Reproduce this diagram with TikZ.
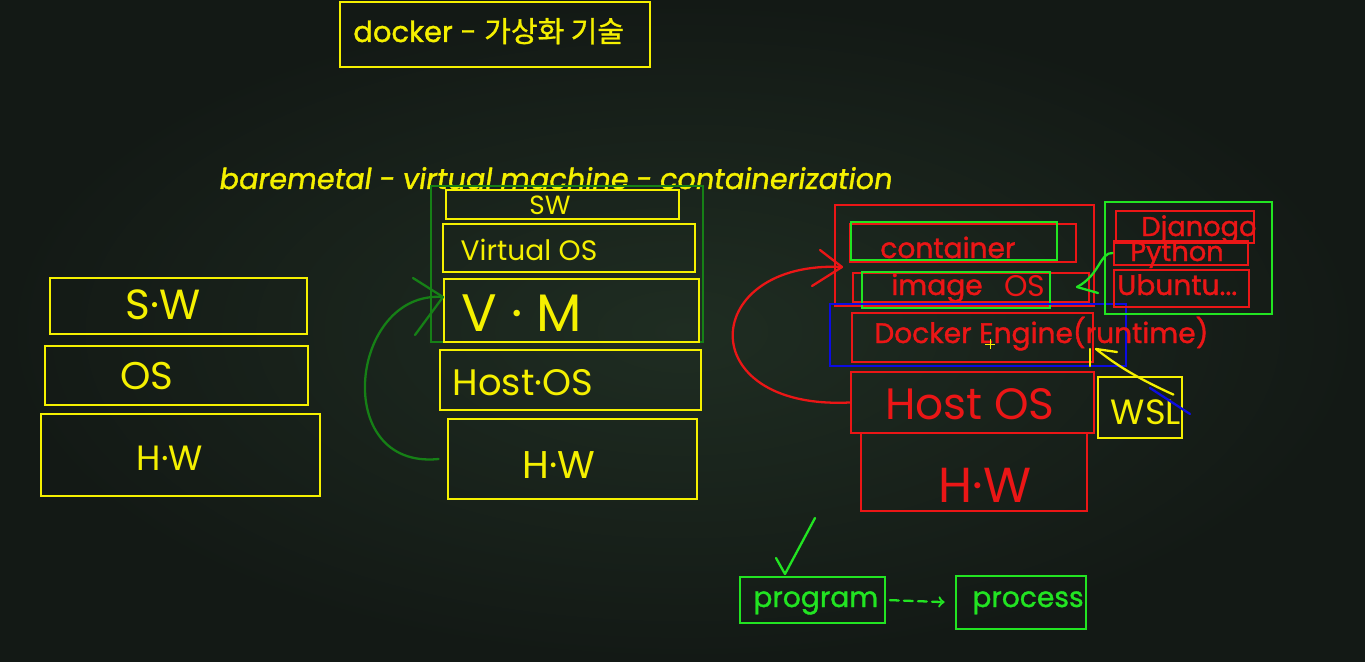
\documentclass[tikz,border=0pt]{standalone}
\usepackage{fontspec}
\setmainfont{Poppins}
\newfontfamily\kr[FakeBold=1]{Noto Sans CJK KR}
\newfontfamily\prt[FakeBold=1.3]{Poppins}
\newfontfamily\obl[FakeSlant=0.15,FakeBold=1.3]{Poppins}
\usetikzlibrary{fit}
\definecolor{ylw}{RGB}{245,240,0}
\definecolor{rd}{RGB}{235,22,22}
\definecolor{grn}{RGB}{34,228,34}
\definecolor{dgrn}{RGB}{22,128,22}
\definecolor{blu}{RGB}{12,12,225}
\definecolor{bgin}{RGB}{31,45,34}
\definecolor{bgout}{RGB}{19,25,21}
\begin{document}
\begin{tikzpicture}[x=0.02cm,y=-0.02cm,
  box/.style={draw,line width=1.6pt,inner sep=0pt},
  yb/.style={box,draw=ylw},rb/.style={box,draw=rd},gb/.style={box,draw=grn},
  pen/.style={line width=1.3pt,line cap=round,line join=round},
  txt/.style={inner sep=0pt,font=\prt\fontsize{16}{16}\selectfont},
  hand/.style={inner sep=0pt,font=\fontsize{#1}{#1}\selectfont}]
\useasboundingbox (0,0) rectangle (1365,662);
\shade[inner color=bgin,outer color=bgout] (0,0) rectangle (1365,662);
\node (ttl) [yb,fit={(340,2) (650,67)}] {};
\node (ttlT) [txt,text=ylw,anchor=base west,font=\prt\fontsize{16.5}{16.5}\selectfont] at (353,42) {docker - {\kr 가상화 기술}};
\node (kind) [txt,text=ylw,anchor=base west,font=\obl\fontsize{16.4}{16.4}\selectfont] at (218,189) {baremetal - virtual machine - containerization};
\node (sw1) [yb,fit={(50,278) (307,334)}] {};
\node (os1) [yb,fit={(45,346) (308,405)}] {};
\node (hw1) [yb,fit={(41,414) (320,496)}] {};
\node (sw1T) [hand=24,text=ylw] at (163,305) {S·W};
\node (os1T) [hand=22,text=ylw] at (147,376) {OS};
\node (hw1T) [hand=20,text=ylw] at (170,458) {H·W};
\node (vmG) [box,draw=dgrn,fit={(431,186) (703,342)}] {};
\node (sw2) [yb,fit={(446,190) (679,219)}] {};
\node (vos) [yb,fit={(443,224) (695,272)}] {};
\node (vm) [yb,fit={(444,279) (699,342)}] {};
\node (host2) [yb,fit={(440,350) (701,410)}] {};
\node (hw2) [yb,fit={(448,419) (697,499)}] {};
\node (sw2T) [hand=15,text=ylw] at (550,205) {SW};
\node (vosT) [hand=16,text=ylw] at (529,250) {Virtual OS};
\node (vmT) [hand=30,text=ylw] at (522,313) {V · M};
\node (host2T) [hand=21,text=ylw] at (523,383) {Host·OS};
\node (hw2T) [hand=22,text=ylw] at (559,465) {H·W};
\coordinate (vmTip) at (443,297);
\draw[pen,draw=dgrn] ([xshift=-0.16cm]hw2.west) .. controls (330,470) and (350,290) .. (vmTip);
\draw[pen,draw=dgrn] (vmTip) --++ (-30,-19);
\draw[pen,draw=dgrn] (vmTip) --++ (-28,38);
\node (ctrO) [rb,fit={(835,205) (1094,306)}] {};
\node (ctrR) [rb,fit={(850,224) (1076,262)}] {};
\node (ctrG) [gb,fit={(851,222) (1057,260)}] {};
\node (imgR) [rb,fit={(853,273) (1089,302)}] {};
\node (imgG) [gb,fit={(862,272) (1050,308)}] {};
\node (eng) [rb,fit={(852,313) (1093,362)}] {};
\node (rt) [box,draw=blu,fit={(830,304) (1126,366)}] {};
\node (host3) [rb,fit={(851,372) (1094,433)}] {};
\node (hw3) [rb,fit={(861,433) (1087,511)}] {};
\node (ctrT) [txt,text=rd,anchor=base west] at (880,258) {container};
\node (imgT) [txt,text=rd,anchor=base west] at (891,295) {image};
\node (imgOS) [hand=17,text=rd] at (1025,286) {OS};
\node (engT) [txt,text=rd,anchor=base west] at (874,343) {Docker Engine(runtime)};
\node (host3T) [hand=25,text=rd] at (970,404) {Host OS};
\node (hw3T) [hand=28,text=rd] at (985,485) {H·W};
\coordinate (ctrTip) at (842,267);
\draw[pen,draw=rd] (host3.west) .. controls (690,410) and (700,260) .. (ctrTip);
\draw[pen,draw=rd] (ctrTip) --++ (-22,-17);
\draw[pen,draw=rd] (ctrTip) --++ (-30,19);
\node (stk) [gb,fit={(1105,202) (1272,314)}] {};
\node (dj) [rb,fit={(1116,211) (1254,243)}] {};
\node (py) [rb,fit={(1114,241) (1248,265)}] {};
\node (ub) [rb,fit={(1114,270) (1249,307)}] {};
\node (djT) [txt,text=rd,anchor=base west,font=\prt\fontsize{15.5}{15.5}\selectfont] at (1141,236) {Djanogo};
\node (pyT) [txt,text=rd,anchor=base west,font=\prt\fontsize{15.5}{15.5}\selectfont] at (1130,261) {Python};
\node (ubT) [txt,text=rd,anchor=base west] at (1117,295) {Ubuntu...};
\coordinate (imgTip) at (1077,287);
\draw[pen,draw=grn] (py.west) .. controls (1100,252) and (1100,275) .. (imgTip);
\draw[pen,draw=grn] (imgTip) --++ (21,6);
\node (wsl) [yb,fit={(1098,377) (1182,438)}] {};
\node (wslT) [hand=20,text=ylw] at (1146,412) {WSL};
\coordinate (engTip) at (1096,349);
\draw[pen,draw=blu] (1150,388) -- (1190,414);
\draw[pen,draw=ylw] ([xshift=-0.2cm,yshift=-0.38cm]wsl.north east) .. controls (1130,375) and (1110,360) .. (engTip);
\draw[pen,draw=ylw] (engTip) --++ (21,3);
\draw[pen,draw=ylw] (engTip) ++(-6,0) --++ (0,17);
\draw[ylw,line width=0.5pt] (985,344) -- (995,344) (990,339) -- (990,349);
\coordinate (chk) at (785,574);
\draw[pen,draw=grn] (chk) --++ (30,-56);
\draw[pen,draw=grn] (chk) --++ (-9,-16);
\node (prog) [gb,fit={(740,577) (885,623)}] {};
\node (proc) [gb,fit={(956,576) (1086,629)}] {};
\node (progT) [txt,text=grn,anchor=base west] at (753,607) {program};
\node (procT) [txt,text=grn,anchor=base west] at (972,607) {process};
\draw[pen,draw=grn,dash pattern=on 5pt off 3pt,->,shorten <=2pt,shorten >=0.2cm] (prog.east) -- (proc.west);
\end{tikzpicture}
\end{document}
